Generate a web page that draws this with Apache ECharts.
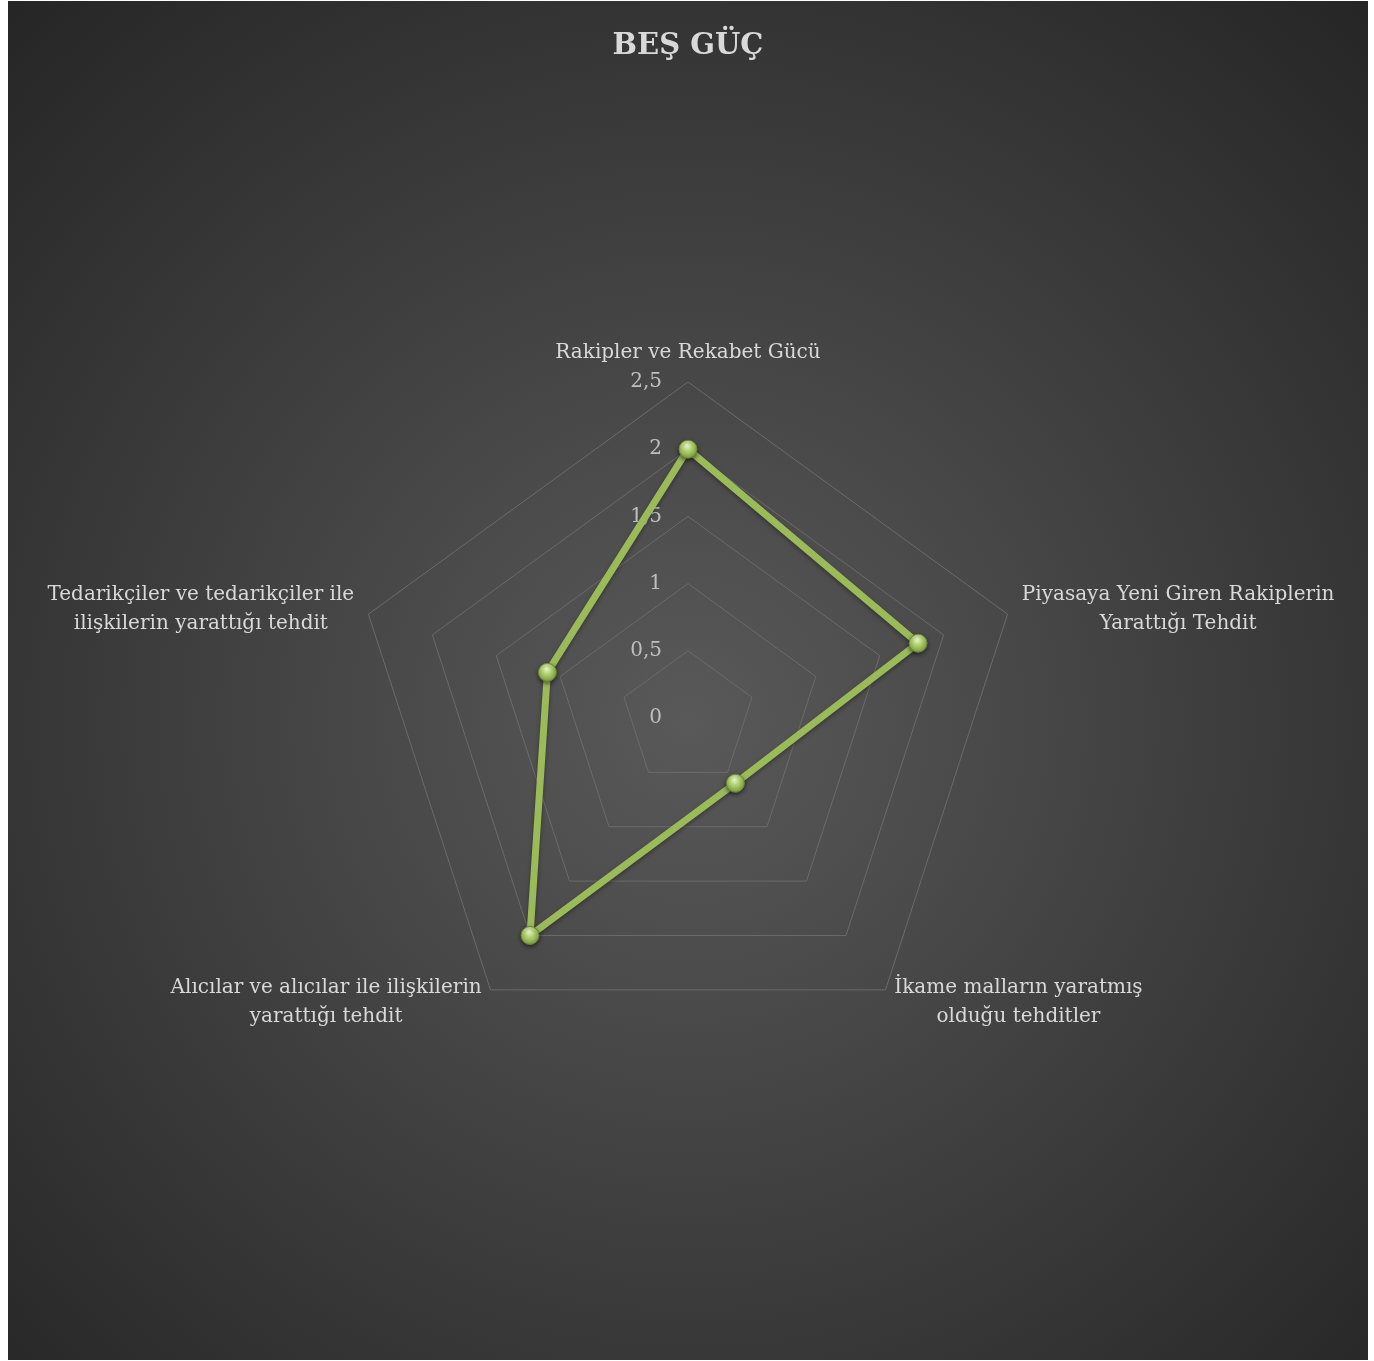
<!DOCTYPE html>
<html>
<head>
<meta charset="utf-8">
<script src="https://cdn.jsdelivr.net/npm/echarts@6/dist/echarts.min.js"></script>
<style>
html, body { margin: 0; padding: 0; background: #ffffff; }
#chart { position: absolute; left: 8px; top: 1px; width: 1360px; height: 1359px; }
</style>
</head>
<body>
<div id="chart"></div>
<script>
const titleText = 'BEŞ GÜÇ';
// categories in clockwise order starting at the top
const categories = [
  'Rakipler ve Rekabet Gücü',
  'Piyasaya Yeni Giren Rakiplerin\nYarattığı Tehdit',
  'İkame malların yaratmış\nolduğu tehditler',
  'Alıcılar ve alıcılar ile ilişkilerin\nyarattığı tehdit',
  'Tedarikçiler ve tedarikçiler ile\nilişkilerin yarattığı tehdit'
];
const values = [2, 1.8, 0.6, 2, 1.1];
const axisMax = 2.5;
const splitCount = 5;

const serif = '"DejaVu Serif", "Liberation Serif", serif';
const chart = echarts.init(document.getElementById('chart'));

// ECharts radar runs counter-clockwise; reorder so the chart reads clockwise
const order = [0, 4, 3, 2, 1];
const indicators = order.map((k, i) => {
  const ind = { name: categories[k], min: 0, max: axisMax };
  if (i === 0) {
    ind.axisLabel = {
      show: true,
      color: '#bfbfbf',
      fontFamily: serif,
      fontSize: 20,
      margin: 26,
      formatter: v => String(v).replace('.', ',')
    };
  }
  return ind;
});
const orderedValues = order.map(k => values[k]);

chart.setOption({
  backgroundColor: {
    type: 'radial', x: 0.5, y: 0.53, r: 0.72,
    colorStops: [
      { offset: 0, color: '#595959' },
      { offset: 1, color: '#262626' }
    ]
  },
  title: {
    text: titleText,
    left: 'center',
    top: 26,
    textStyle: { color: '#d9d9d9', fontFamily: serif, fontSize: 29, fontWeight: 'bold' }
  },
  radar: {
    center: [680, 717],
    radius: 336,
    startAngle: 90,
    splitNumber: splitCount,
    shape: 'polygon',
    indicator: indicators,
    nameGap: 15,
    axisName: {
      color: '#d9d9d9',
      fontFamily: serif,
      fontSize: 20,
      lineHeight: 29,
      formatter: function (name) {
        return name.split('\n').map(s => '{c|' + s + '}').join('\n');
      },
      rich: {
        c: { align: 'center', color: '#d9d9d9', fontFamily: serif, fontSize: 20, lineHeight: 29 }
      }
    },
    axisLine: { show: false },
    axisTick: { show: false },
    axisLabel: { show: false },
    splitLine: { lineStyle: { color: '#6b6b6b', width: 1 } },
    splitArea: { show: false }
  },
  series: [{
    type: 'radar',
    data: [{ value: orderedValues }],
    symbol: 'circle',
    symbolSize: 18,
    lineStyle: {
      color: '#9bbb59', width: 7,
      shadowColor: 'rgba(0,0,0,0.35)', shadowBlur: 4, shadowOffsetY: 2
    },
    itemStyle: {
      color: {
        type: 'radial', x: 0.45, y: 0.3, r: 0.7,
        colorStops: [
          { offset: 0, color: '#f2fad8' },
          { offset: 0.4, color: '#b4d572' },
          { offset: 1, color: '#7d9c3e' }
        ]
      },
      borderColor: '#6a8832',
      borderWidth: 1,
      shadowColor: 'rgba(0,0,0,0.5)', shadowBlur: 4, shadowOffsetY: 2
    }
  }]
});
</script>
</body>
</html>
